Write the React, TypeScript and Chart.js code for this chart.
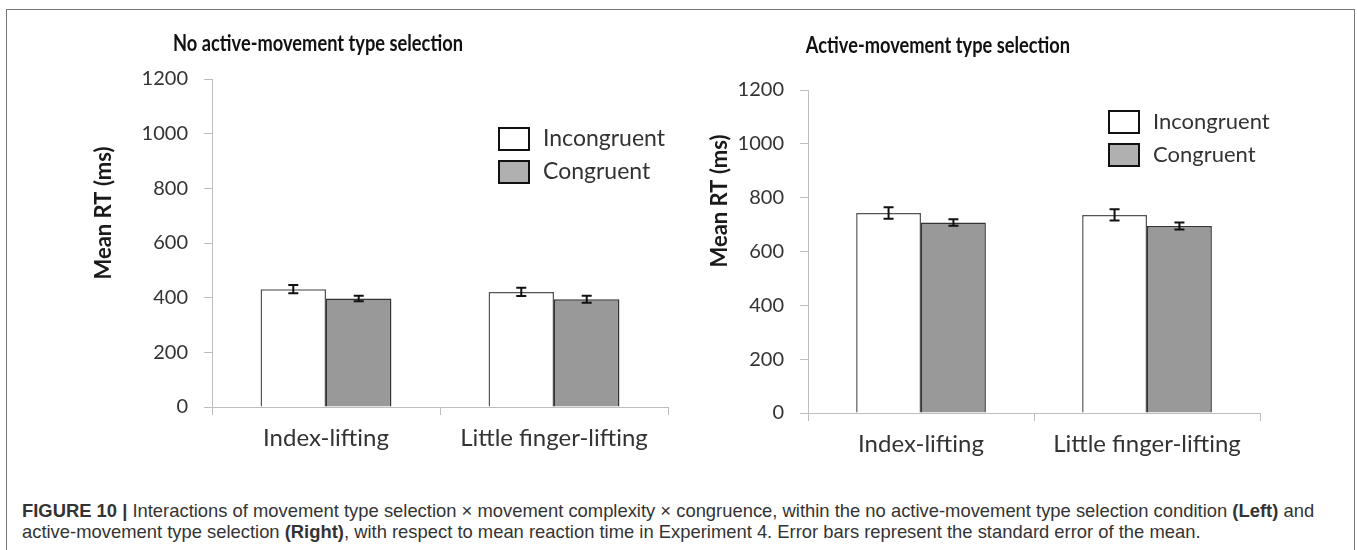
import React, { useEffect, useRef } from "react";
import { Chart, registerables } from "chart.js";

Chart.register(...registerables);

const categories = ["Index-lifting", "Little finger-lifting"];
const seriesNames = ["Incongruent", "Congruent"];
const yTicks = [0, 200, 400, 600, 800, 1000, 1200];

const leftIncongruent = [431, 421];
const leftCongruent = [397, 394];
const leftIncongruentErr = [15, 15];
const leftCongruentErr = [10, 13];

const rightIncongruent = [743, 736];
const rightCongruent = [708, 695];
const rightIncongruentErr = [21, 21];
const rightCongruentErr = [12, 13];

const leftTitle = "No active-movement type selection";
const rightTitle = "Active-movement type selection";
const yTitle = "Mean RT (ms)";

const FONT = "Lato, 'Open Sans', sans-serif";
const barFills = ["#ffffff", "#999999"];
const barBorders = ["#555555", "#333333"];
const legendFills = ["#ffffff", "#b0b0b0"];

const errorBarPlugin = {
  id: "errorBars",
  afterDatasetsDraw(chart: any) {
    const { ctx } = chart;
    const y = chart.scales.y;
    ctx.save();
    ctx.strokeStyle = "#111111";
    ctx.lineWidth = 2;
    chart.data.datasets.forEach((ds: any, i: number) => {
      const meta = chart.getDatasetMeta(i);
      meta.data.forEach((bar: any, j: number) => {
        const v = ds.data[j];
        const e = ds.errors[j];
        const x = bar.x;
        const yt = y.getPixelForValue(v + e);
        const yb = y.getPixelForValue(v - e);
        ctx.beginPath();
        ctx.moveTo(x, yt);
        ctx.lineTo(x, yb);
        ctx.moveTo(x - 5, yt);
        ctx.lineTo(x + 5, yt);
        ctx.moveTo(x - 5, yb);
        ctx.lineTo(x + 5, yb);
        ctx.stroke();
      });
    });
    ctx.restore();
  },
};

const panelTextPlugin = {
  id: "panelText",
  afterDraw(chart: any, _args: any, o: any) {
    const { ctx } = chart;
    ctx.save();
    ctx.fillStyle = "#111111";
    ctx.textAlign = "center";
    ctx.textBaseline = "middle";

    ctx.save();
    ctx.translate(o.titleX, o.titleY);
    ctx.scale(0.83, 1);
    ctx.font = `bold 22px ${FONT}`;
    ctx.fillText(o.title, 0, 0);
    ctx.restore();

    ctx.save();
    ctx.translate(o.yTitleX, o.yTitleY);
    ctx.rotate(-Math.PI / 2);
    ctx.font = `bold 22px ${FONT}`;
    ctx.fillStyle = "#1a1a1a";
    ctx.fillText(o.yTitle, 0, 0);
    ctx.restore();

    chart.data.datasets.forEach((ds: any, i: number) => {
      const cy = o.legendY + i * o.legendGap;
      ctx.fillStyle = legendFills[i];
      ctx.fillRect(o.legendX, cy - 11, 30, 22);
      ctx.strokeStyle = "#111111";
      ctx.lineWidth = 2;
      ctx.strokeRect(o.legendX, cy - 11, 30, 22);
      ctx.fillStyle = "#333333";
      ctx.font = `${o.legendSize}px ${FONT}`;
      ctx.textAlign = "left";
      ctx.fillText(ds.label, o.legendX + 44, cy);
    });
    ctx.restore();
  },
};

type PanelProps = {
  left: number;
  width: number;
  height: number;
  area: { left: number; top: number; right: number; bottom: number };
  incong: number[];
  cong: number[];
  incErr: number[];
  congErr: number[];
  text: any;
};

function Panel(p: PanelProps) {
  const ref = useRef<HTMLCanvasElement>(null);
  useEffect(() => {
    if (!ref.current) return;
    const chart = new Chart(ref.current, {
      type: "bar",
      data: {
        labels: categories,
        datasets: [
          {
            label: seriesNames[0],
            data: p.incong,
            errors: p.incErr,
            backgroundColor: barFills[0],
            borderColor: barBorders[0],
            borderWidth: 1.5,
            categoryPercentage: 0.574,
            barPercentage: 1,
          } as any,
          {
            label: seriesNames[1],
            data: p.cong,
            errors: p.congErr,
            backgroundColor: barFills[1],
            borderColor: barBorders[1],
            borderWidth: 1.5,
            categoryPercentage: 0.574,
            barPercentage: 1,
          } as any,
        ],
      },
      options: {
        responsive: false,
        animation: false,
        layout: {
          padding: { top: p.area.top, right: p.width - p.area.right, left: 0, bottom: 0 },
        },
        plugins: {
          legend: { display: false },
          tooltip: { enabled: false },
          title: { display: false },
          panelText: p.text,
        } as any,
        scales: {
          x: {
            offset: true,
            grid: {
              display: true,
              offset: true,
              drawOnChartArea: false,
              drawTicks: true,
              tickLength: 8,
              color: "#bdbdbd",
              lineWidth: 1,
            },
            border: { display: true, color: "#bdbdbd", width: 1 },
            ticks: {
              color: "#333333",
              font: { family: FONT, size: 24 },
              padding: 9,
              maxRotation: 0,
              autoSkip: false,
            },
            afterFit: (s: any) => {
              s.height = p.height - p.area.bottom;
            },
          },
          y: {
            min: 0,
            max: 1200,
            afterBuildTicks: (s: any) => {
              s.ticks = yTicks.map((v) => ({ value: v }));
            },
            ticks: {
              color: "#333333",
              font: { family: FONT, size: 20 },
              padding: 16,
              callback: (v: any) => String(v),
            },
            grid: {
              drawOnChartArea: false,
              drawTicks: true,
              tickLength: 8,
              color: "#bdbdbd",
            },
            border: { display: true, color: "#bdbdbd", width: 1 },
            afterFit: (s: any) => {
              s.width = p.area.left;
            },
          },
        },
      } as any,
      plugins: [errorBarPlugin, panelTextPlugin],
    });
    return () => chart.destroy();
  }, []);
  return (
    <canvas
      ref={ref}
      width={p.width}
      height={p.height}
      style={{ position: "absolute", left: p.left, top: 0, width: p.width, height: p.height, display: "block" }}
    />
  );
}

export default function App() {
  return (
    <div
      style={{
        position: "absolute",
        left: 0,
        top: 0,
        width: 1357,
        height: 550,
        overflow: "hidden",
        background: "#ffffff",
      }}
    >
      <div
        style={{
          position: "absolute",
          left: 6,
          top: 9,
          width: 1349,
          height: 541,
          border: "1px solid #777777",
          borderBottom: "none",
          boxSizing: "border-box",
        }}
      />
      <Panel
        left={0}
        width={690}
        height={480}
        area={{ left: 212, top: 79, right: 668, bottom: 407 }}
        incong={leftIncongruent}
        cong={leftCongruent}
        incErr={leftIncongruentErr}
        congErr={leftCongruentErr}
        text={{
          title: leftTitle,
          titleX: 318,
          titleY: 44,
          yTitle: yTitle,
          yTitleX: 104,
          yTitleY: 213,
          legendX: 499,
          legendY: 139,
          legendGap: 33,
          legendSize: 23,
        }}
      />
      <Panel
        left={690}
        width={667}
        height={480}
        area={{ left: 118, top: 90, right: 570, bottom: 413 }}
        incong={rightIncongruent}
        cong={rightCongruent}
        incErr={rightIncongruentErr}
        congErr={rightCongruentErr}
        text={{
          title: rightTitle,
          titleX: 248,
          titleY: 46,
          yTitle: yTitle,
          yTitleX: 30,
          yTitleY: 201,
          legendX: 419,
          legendY: 122,
          legendGap: 33,
          legendSize: 22,
        }}
      />
      <div
        style={{
          position: "absolute",
          left: 22,
          top: 500,
          fontFamily: "'Liberation Sans', Arial, sans-serif",
          fontSize: 18.4,
          lineHeight: "21px",
          color: "#333333",
          whiteSpace: "nowrap",
        }}
      >
        <b>FIGURE 10 |</b> Interactions of movement type selection × movement complexity × congruence, within the no
        active-movement type selection condition <b>(Left)</b> and
        <br />
        active-movement type selection <b>(Right)</b>, with respect to mean reaction time in Experiment 4. Error bars
        represent the standard error of the mean.
      </div>
    </div>
  );
}
